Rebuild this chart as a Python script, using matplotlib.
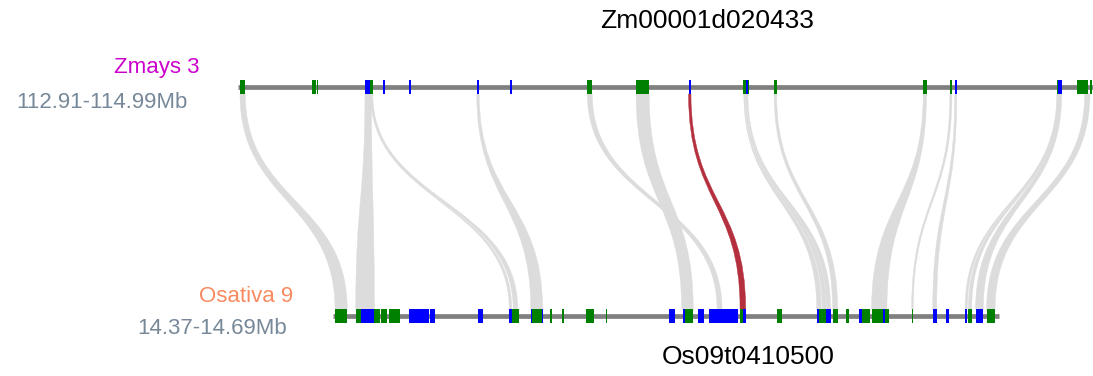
import matplotlib
matplotlib.use('Agg')
import matplotlib.pyplot as plt
from matplotlib.patches import Rectangle, PathPatch
from matplotlib.path import Path

plt.rcParams['font.family'] = ['Liberation Sans', 'DejaVu Sans']

"""Regions (Mb)"""
top_name, top_range = 'Zmays 3', (112.91, 114.99)
bot_name, bot_range = 'Osativa 9', (14.37, 14.69)
top_gene_label = 'Zm00001d020433'
bot_gene_label = 'Os09t0410500'

"""Genes"""
top_start = [112.910, 113.086, 113.097, 113.215, 113.227, 113.260, 113.323, 113.488, 113.570, 113.758, 113.877,
             114.006, 114.137, 114.145, 114.214, 114.578, 114.643, 114.655, 114.904, 114.907, 114.953, 114.985]
top_end = [112.923, 113.0955, 113.100, 113.2315, 113.234, 113.264, 113.3275, 113.494, 113.573, 113.770, 113.909,
           114.011, 114.153, 114.150, 114.220, 114.586, 114.648, 114.660, 114.912, 114.916, 114.981, 114.990]
top_strand = ['+', '+', '+', '-', '+', '-', '-', '-', '-', '+', '+',
              '-', '+', '-', '+', '+', '+', '-', '+', '-', '+', '+']

bot_start = [14.3700, 14.3800, 14.3824, 14.3890, 14.3921, 14.3961, 14.4059, 14.4159, 14.4389, 14.4541, 14.4556,
             14.4645, 14.4650, 14.4738, 14.4797, 14.4911, 14.5007, 14.5312, 14.5378, 14.5389, 14.5451, 14.5507,
             14.5593, 14.5655, 14.5668, 14.5832, 14.6025, 14.6037, 14.6068, 14.6102, 14.6165, 14.6229, 14.6245,
             14.6290, 14.6346, 14.6483, 14.6585, 14.6649, 14.6741, 14.6757, 14.6792, 14.6845]
bot_end = [14.3759, 14.3824, 14.3890, 14.3917, 14.3950, 14.4014, 14.4155, 14.4183, 14.4413, 14.4553, 14.4588,
           14.4702, 14.4697, 14.4749, 14.4807, 14.4952, 14.5011, 14.5341, 14.5389, 14.5429, 14.5481, 14.5591,
           14.5647, 14.5671, 14.5682, 14.5859, 14.6037, 14.6068, 14.6092, 14.6126, 14.6182, 14.6245, 14.6282,
           14.6375, 14.6357, 14.6491, 14.6604, 14.6665, 14.6752, 14.6773, 14.6829, 14.6886]
bot_strand = ['+', '+', '-', '+', '+', '+', '-', '-', '-', '-', '+',
              '-', '+', '+', '+', '+', '+', '-', '-', '+', '-', '-',
              '-', '+', '-', '+', '-', '+', '-', '+', '+', '-', '+',
              '+', '-', '+', '-', '-', '-', '+', '-', '+']

"""Links: top (start, end) -> bottom (start, end)"""
link_top_start = [112.910, 113.215, 113.229, 113.231, 113.488, 113.758, 113.877, 114.140, 114.143, 114.147,
                  114.214, 114.578, 114.643, 114.655, 114.904, 114.906, 114.908, 114.972]
link_top_end = [112.923, 113.231, 113.232, 113.234, 113.494, 113.770, 113.909, 114.142, 114.146, 114.150,
                114.220, 114.586, 114.648, 114.660, 114.907, 114.909, 114.916, 114.985]
link_bot_start = [14.3700, 14.3800, 14.4541, 14.4560, 14.4645, 14.5544, 14.5373, 14.6025, 14.6052, 14.6072,
                  14.6102, 14.6290, 14.6483, 14.6585, 14.6741, 14.6757, 14.6792, 14.6845]
link_bot_end = [14.3759, 14.3890, 14.4553, 14.4582, 14.4702, 14.5568, 14.5429, 14.6048, 14.6070, 14.6092,
                14.6126, 14.6364, 14.6491, 14.6604, 14.6752, 14.6773, 14.6829, 14.6886]
# the highlighted pair
hl_top = (114.005, 114.011)
hl_bot = (14.5655, 14.5682)

"""Layout"""
W, H = 1093, 376
TOP_X, TOP_Y = (240, 1092), 87
BOT_X, BOT_Y = (335, 998), 316
GENE_H = 14
STRAND_COLOR = {'+': '#008000', '-': '#0000ff'}


def to_x(pos, rng, px):
    return px[0] + (pos - rng[0]) / (rng[1] - rng[0]) * (px[1] - px[0])


def draw_track(ax, starts, ends, strands, rng, px, y):
    ax.plot([px[0] - 2, px[1] + 1], [y, y], color='#808080', lw=3.4, solid_capstyle='butt', zorder=3)
    for s, e, st in zip(starts, ends, strands):
        x0, x1 = to_x(s, rng, px), to_x(e, rng, px)
        ax.add_patch(Rectangle((x0, y - GENE_H / 2), max(x1 - x0, 1.2), GENE_H,
                               facecolor=STRAND_COLOR[st], edgecolor='none', zorder=4))


def draw_link(ax, ts, te, bs, be, color, zorder=1):
    xa, xb = to_x(ts, top_range, TOP_X), to_x(te, top_range, TOP_X)
    xc, xd = to_x(bs, bot_range, BOT_X), to_x(be, bot_range, BOT_X)
    y0, y1 = TOP_Y + GENE_H / 2, BOT_Y - GENE_H / 2
    ym = (y0 + y1) / 2
    verts = [(xa, y0), (xa, ym), (xc, ym), (xc, y1),
             (xd, y1),
             (xd, ym), (xb, ym), (xb, y0),
             (xa, y0)]
    codes = [Path.MOVETO, Path.CURVE4, Path.CURVE4, Path.CURVE4,
             Path.LINETO,
             Path.CURVE4, Path.CURVE4, Path.CURVE4,
             Path.CLOSEPOLY]
    ax.add_patch(PathPatch(Path(verts, codes), facecolor=color, edgecolor=color, lw=0.3, zorder=zorder))


fig = plt.figure(figsize=(W / 100, H / 100), dpi=100)
ax = fig.add_axes([0, 0, 1, 1])
ax.set_xlim(0, W)
ax.set_ylim(H, 0)
ax.axis('off')

for ts, te, bs, be in zip(link_top_start, link_top_end, link_bot_start, link_bot_end):
    draw_link(ax, ts, te, bs, be, '#dcdcdc')
draw_link(ax, hl_top[0], hl_top[1], hl_bot[0], hl_bot[1], '#b5303e', zorder=2)

draw_track(ax, top_start, top_end, top_strand, top_range, TOP_X, TOP_Y)
draw_track(ax, bot_start, bot_end, bot_strand, bot_range, BOT_X, BOT_Y)

# labels
ax.text(199, 67, top_name, color='#cc00cc', fontsize=16, ha='right', va='center')
ax.text(188, 102, '{:.2f}-{:.2f}Mb'.format(*top_range), color='#778899', fontsize=16, ha='right', va='center')
ax.text(293, 297, bot_name, color='#fa8a60', fontsize=16, ha='right', va='center')
ax.text(287, 329, '{:.2f}-{:.2f}Mb'.format(*bot_range), color='#778899', fontsize=16, ha='right', va='center')
ax.text(707, 21, top_gene_label, color='black', fontsize=19, ha='center', va='center')
ax.text(748, 357, bot_gene_label, color='black', fontsize=19, ha='center', va='center')

plt.savefig('out.png', dpi=100)
